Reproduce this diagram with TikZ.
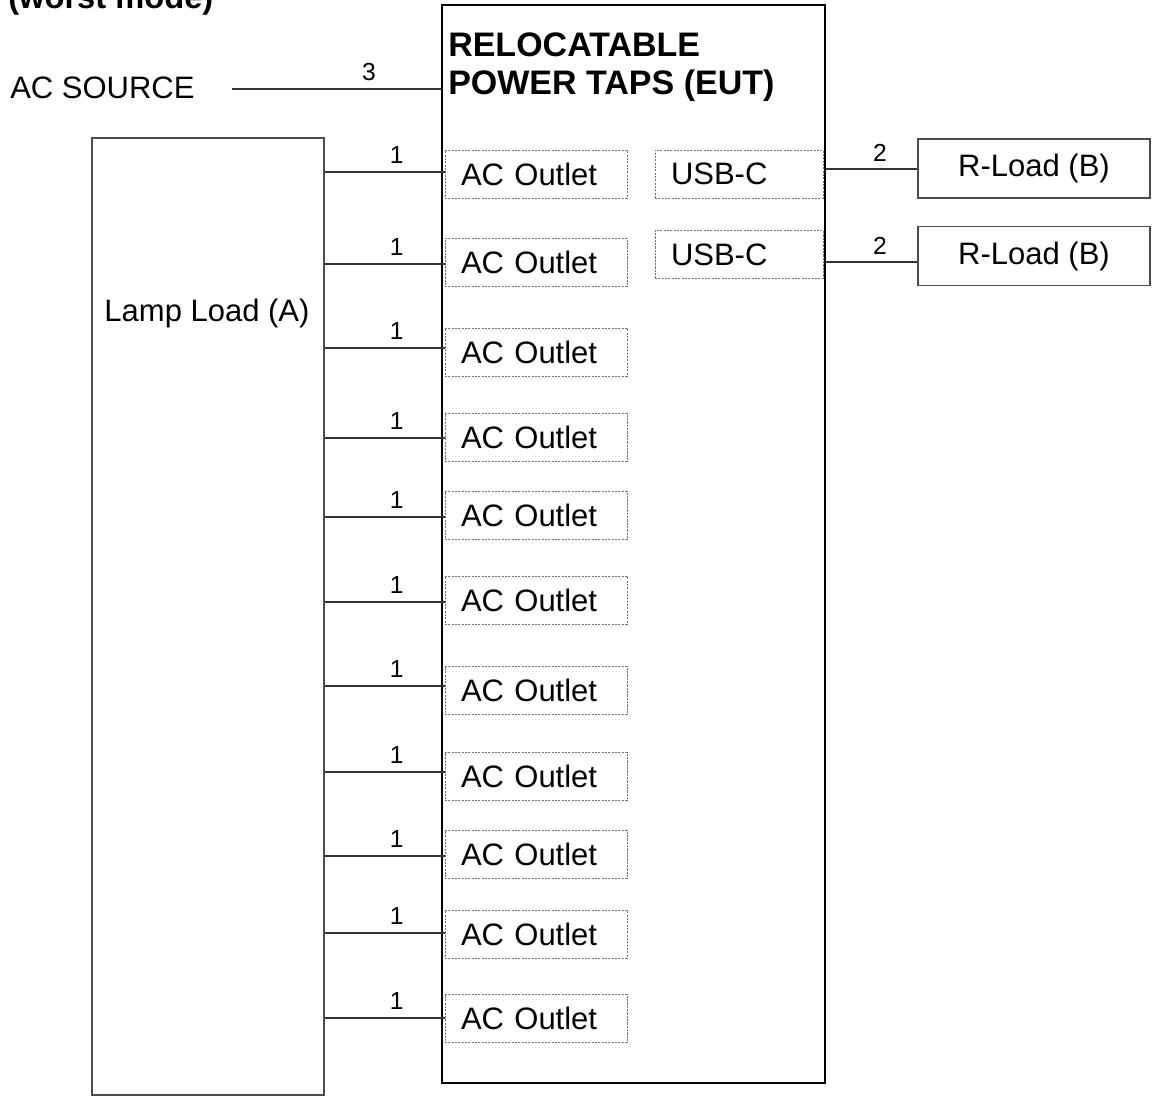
\documentclass[tikz,border=0pt]{standalone}
\usepackage{fontspec}
\setmainfont{Liberation Sans}
\begin{document}
\begin{tikzpicture}[x=0.75pt,y=-0.75pt,
  every node/.style={font=\fontsize{23.25pt}{28pt}\selectfont},
  wire/.style={draw=black!80, line width=1pt},
  num/.style={font=\fontsize{18.5pt}{20pt}\selectfont, inner sep=0pt},
  dashbox/.style={draw=black!55, dash pattern=on 1.6pt off 0.9pt, line width=0.7pt,
    minimum height=36pt, align=left, inner xsep=12pt, inner ysep=0pt},
  outlet/.style={dashbox, text width=112.5pt},
  usbbox/.style={dashbox, text width=102pt},
  loadbox/.style={draw=black!70, line width=1.2pt, minimum width=174pt, minimum height=44pt, inner sep=0pt}
]
\useasboundingbox (0,0) rectangle (1159,1098);
\clip (0,0) rectangle (1159,1098);

% cut-off heading
\node[anchor=base west, inner sep=0pt, font=\bfseries\fontsize{24.5pt}{28pt}\selectfont] (head) at (8,9) {(worst mode)};

% EUT
\node[draw=black, line width=2.2pt, minimum width=287.25pt, minimum height=808.5pt, inner sep=0pt] (eut) at (633.5,544) {};
\node[anchor=north west, inner sep=0pt, align=left, font=\bfseries\fontsize{25.5pt}{28.5pt}\selectfont] (title) at (448,32) {RELOCATABLE\\POWER TAPS (EUT)};

% AC source
\node[anchor=west, inner sep=0pt] (acs) at (10,87.5) {AC SOURCE};
\coordinate (acsend) at (232,89);
\draw[wire] (acsend) -- node[num, pos=0.657, above=6pt] (n3) {3} (eut.west |- acsend);

% Lamp load
\node[draw=black!70, line width=1.4pt, minimum width=174pt, minimum height=717.75pt, inner sep=0pt] (lamp) at (208,616.5) {};
\node[inner sep=0pt] (lamplbl) at (207,313) {Lamp Load (A)};

% AC outlets: box centre / wire y
\foreach \i/\by/\ly in {1/174/172, 2/262.5/264, 3/352/348, 4/437.5/438, 5/515.5/517, 6/600/602, 7/690.5/686, 8/776.5/772, 9/854.5/856, 10/934/933, 11/1018.5/1018}{
  \node[outlet] (ao\i) at (536,\by) {AC Outlet};
  \coordinate (w\i) at (324,\ly);
  \draw[wire] (lamp.east |- w\i) -- node[num, pos=0.6, above=6pt] (lab\i) {1} (ao\i.west |- w\i);
}

% USB-C
\node[usbbox] (usb1) at (739,174) {USB-C};
\node[usbbox] (usb2) at (739,254.5) {USB-C};

% R loads
\node[loadbox] (rl1) at (1034,168.5) {R-Load (B)};
\node[loadbox] (rl2) at (1034,256) {R-Load (B)};
\coordinate (r1y) at (900,169);
\coordinate (r2y) at (900,262);
\draw[wire] (eut.east |- r1y) -- node[num, pos=0.59, above=5pt] (lr1) {2} (rl1.west |- r1y);
\draw[wire] (eut.east |- r2y) -- node[num, pos=0.59, above=5pt] (lr2) {2} (rl2.west |- r2y);
\end{tikzpicture}
\end{document}
